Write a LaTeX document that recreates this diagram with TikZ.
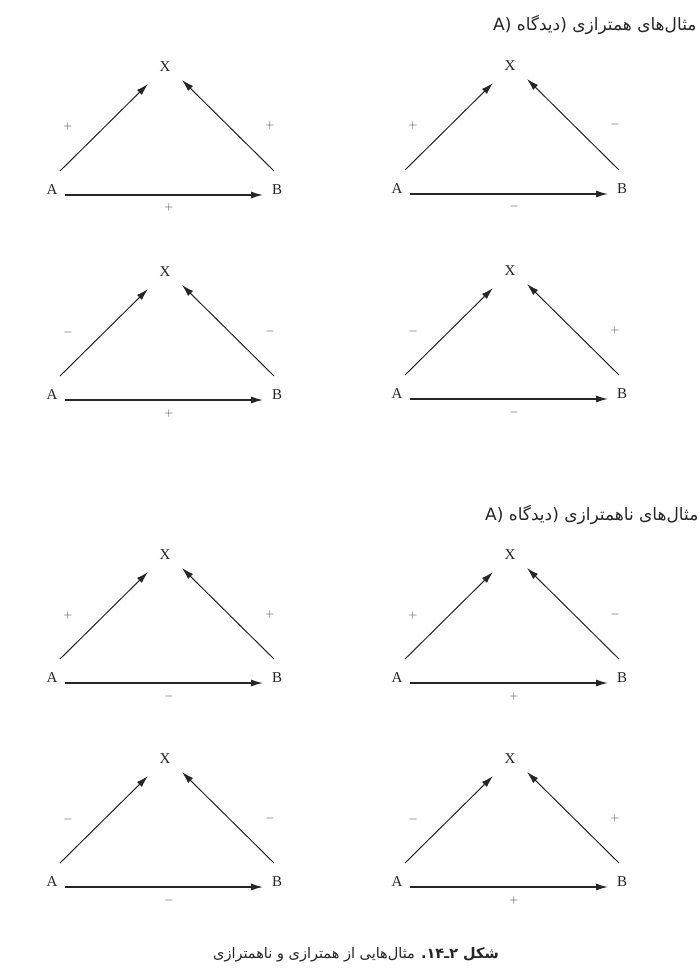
\documentclass[tikz,border=0pt]{standalone}
\usepackage{fontspec}
\setmainfont{Liberation Serif}
\newfontfamily\arabicfont[Script=Arabic]{DejaVu Sans}
\TeXXeTstate=1
\usetikzlibrary{arrows.meta}
\definecolor{ink}{gray}{0.15}
\tikzset{
  vtx/.style={inner sep=0pt, text=ink, font=\fontsize{15}{17}\selectfont},
  sgn/.style={inner sep=0pt, text=ink!90, font=\fontsize{13}{15}\selectfont},
  arr/.style={draw=ink, line width=1pt, -{Latex[length=12pt,width=7pt]}},
  barr/.style={arr, line width=1.4pt},
  head/.style={inner sep=0pt, text=ink, font=\fontsize{17}{20}\selectfont\arabicfont},
  capt/.style={inner sep=0pt, text=ink, font=\fontsize{14.5}{17}\selectfont\arabicfont},
}
% #1 prefix, #2 x of X, #3 y of X, #4 left sign, #5 right sign, #6 bottom sign
\newcommand\mytriad[6]{%
  \node[vtx] (#1X) at (#2,#3) {X};
  \node[vtx] (#1A) at (#2-113,#3+123) {A};
  \node[vtx] (#1B) at (#2+112,#3+123) {B};
  \draw[arr] ([shift={(8,-19)}]#1A.center) -- ([shift={(-17,17)}]#1X.center);
  \draw[arr] ([shift={(-3,-19)}]#1B.center) -- ([shift={(17,13)}]#1X.center);
  \draw[barr] ([shift={(13,5)}]#1A.center) -- ([shift={(-14,5)}]#1B.center);
  \node[sgn] (#1l) at (#2-97,#3+60) {$#4$};
  \node[sgn] (#1r) at (#2+105,#3+59) {$#5$};
  \node[sgn] (#1b) at (#2+4,#3+141) {$#6$};
}
\begin{document}
\begin{tikzpicture}[x=1pt,y=-1pt]
\useasboundingbox[fill=white] (0,0) rectangle (699,973);
\node[head, anchor=west] (h1) at (493,25) {\beginR مثال‌های همترازی (دیدگاه A)\endR};
\mytriad{p}{165}{67}{+}{+}{+}
\mytriad{q}{510}{66}{+}{-}{-}
\mytriad{r}{165}{272}{-}{-}{+}
\mytriad{s}{510}{271}{-}{+}{-}
\node[head, anchor=west] (h2) at (485,515) {\beginR مثال‌های ناهمترازی (دیدگاه A)\endR};
\mytriad{t}{165}{555}{+}{+}{-}
\mytriad{u}{510}{555}{+}{-}{+}
\mytriad{v}{165}{759}{-}{-}{-}
\mytriad{w}{510}{759}{-}{+}{+}
\node[capt] (cap) at (356,955) {\beginR{\bfseries شکل ۲ـ۱۴.} مثال‌هایی از همترازی و ناهمترازی\endR};
\end{tikzpicture}
\end{document}
